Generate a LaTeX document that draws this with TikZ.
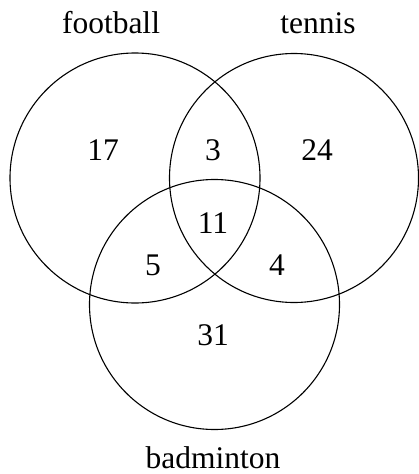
\documentclass[tikz,border=0pt]{standalone}
\usepackage{fontspec}
\setmainfont{Liberation Serif}
\usepackage{tikz}

\begin{document}
\begin{tikzpicture}[x=1pt,y=-1pt,line width=1.1pt,every node/.style={font=\fontsize{31.5}{36}\selectfont}]
  \useasboundingbox (0,0) rectangle (419,474);
  \draw (135,178) circle (125); \draw (294,178) circle (124.5); \draw (214.5,304.5) circle (125);
  \node (fb) at (111,23) {football}; \node (tn) at (318,23) {tennis}; \node (bd) at (213,458) {badminton};
  \node (f) at (103,150) {17}; \node (ft) at (213,150) {3}; \node (t) at (317,150) {24};
  \node (ftb) at (213,223) {11}; \node (fb2) at (153,265) {5}; \node (tb) at (277,265) {4}; \node (b) at (213,335) {31};
\end{tikzpicture}
\end{document}
